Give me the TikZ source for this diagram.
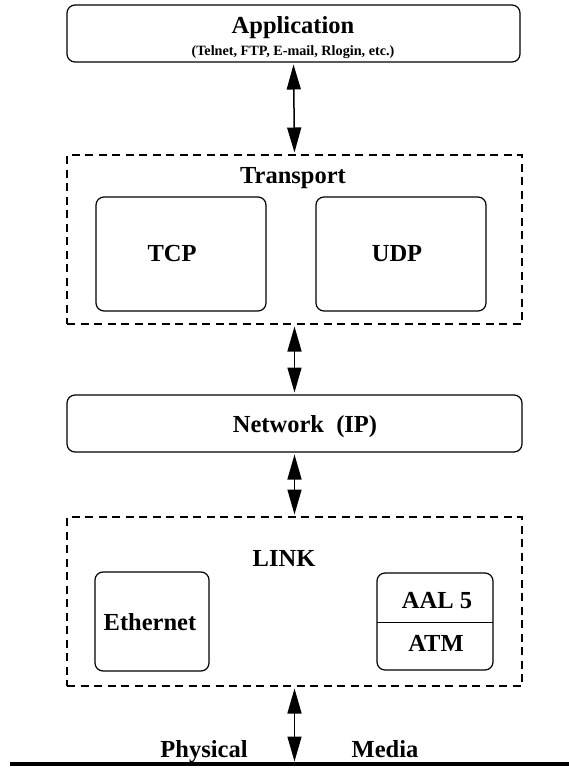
\documentclass[tikz,border=0pt]{standalone}
\usepackage{fontspec}
\setmainfont{Liberation Serif}
\usetikzlibrary{arrows.meta}
\begin{document}
\begin{tikzpicture}[x=1pt,y=-1pt,
  box/.style={draw,line width=1.2pt,rounded corners=8pt,inner sep=0pt,outer sep=0pt},
  dbox/.style={draw,line width=1.2pt,dash pattern=on 8pt off 5.5pt,inner sep=0pt,outer sep=0pt},
  lbl/.style={anchor=base,inner sep=0pt,font=\fontsize{24.5}{29}\selectfont\bfseries},
  slbl/.style={anchor=base,inner sep=0pt,font=\fontsize{14.2}{17}\selectfont\bfseries},
  biarrow/.style={line width=1.5pt,{Triangle[length=25pt,width=14pt]}-{Triangle[length=25pt,width=14pt]},shorten <=2.5pt,shorten >=2.5pt}]
\useasboundingbox (0,0) rectangle (569,768);
% boxes
\node[box,minimum width=453pt,minimum height=57pt] (app) at (293.5,33.5) {};
\node[dbox,minimum width=455pt,minimum height=169pt] (trans) at (294.5,239.5) {};
\node[box,minimum width=170pt,minimum height=114pt] (tcp) at (181,254) {};
\node[box,minimum width=170pt,minimum height=114pt] (udp) at (401,254) {};
\node[box,minimum width=455pt,minimum height=57pt] (net) at (294.5,423.5) {};
\node[dbox,minimum width=455pt,minimum height=169pt] (link) at (294.5,601.5) {};
\node[box,minimum width=114pt,minimum height=99pt] (eth) at (152,621.5) {};
\node[box,minimum width=116pt,minimum height=97pt] (aal) at (435,621.5) {};
\draw[line width=1pt] (aal.west |- 0,622) -- (aal.east |- 0,622);
% labels
\node[lbl] (tapp) at (293,34) {Application};
\node[slbl] (tsub) at (293,56) {(Telnet, FTP, E-mail, Rlogin, etc.)};
\node[lbl] (ttrans) at (293,183) {Transport};
\node[lbl] (ttcp) at (172,261) {TCP};
\node[lbl] (tudp) at (397,261) {UDP};
\node[lbl] (tnet) at (305,432) {Network\ \ (IP)};
\node[lbl] (tlink) at (284,566) {LINK};
\node[lbl] (teth) at (150,630) {Ethernet};
\node[lbl] (taal) at (437,608) {AAL 5};
\node[lbl] (tatm) at (436,651) {ATM};
\node[lbl] (tphys) at (204,757) {Physical};
\node[lbl] (tmedia) at (385,757) {Media};
% ground line
\coordinate (gl) at (10,764);
\coordinate (gr) at (569,764);
\coordinate (gnd) at (294.5,764);
\draw[line width=4pt] (gl) -- (gr);
% arrows
\draw[biarrow] (app.south) -- (trans.north);
\draw[biarrow] (trans.south) -- (net.north);
\draw[biarrow] (net.south) -- (link.north);
\draw[biarrow] (link.south) -- (gnd);
\end{tikzpicture}
\end{document}
